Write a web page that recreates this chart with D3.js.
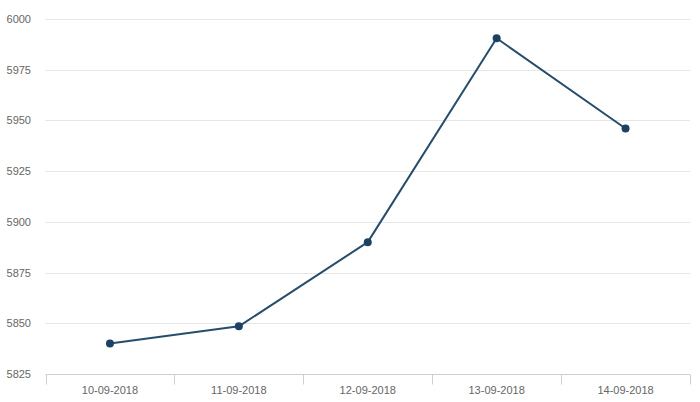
<!DOCTYPE html>
<html><head><meta charset="utf-8">
<script src="https://cdn.jsdelivr.net/npm/d3@7"></script>
<style>body{margin:0;background:#fff}svg{display:block}text{font-family:"Liberation Sans",Arial,sans-serif}</style>
</head><body><svg id="c" width="700" height="402"></svg>
<script>
const categories = ["10-09-2018","11-09-2018","12-09-2018","13-09-2018","14-09-2018"];
const values = [5840, 5848.5, 5890, 5990.5, 5946];
const yTicks = [5825,5850,5875,5900,5925,5950,5975,6000];

(function(){
const svg = d3.select("#c");
const mLeft = 45.5, mRight = 690, mTop = 19, mBottom = 374;
const x = d3.scaleBand().domain(categories).range([mLeft, mRight]);
const y = d3.scaleLinear().domain([5825, 6000]).range([mBottom, mTop]);

// grid
svg.append("g").selectAll("line").data(yTicks.slice(1)).join("line")
  .attr("x1", mLeft).attr("x2", mRight)
  .attr("y1", d => Math.round(y(d)) + 0.5).attr("y2", d => Math.round(y(d)) + 0.5)
  .attr("stroke", "#e6e6e6").attr("stroke-width", 1);

// y labels
svg.append("g").selectAll("text").data(yTicks).join("text")
  .attr("x", 31).attr("y", d => y(d) + 4)
  .attr("text-anchor", "end").attr("font-size", 11).attr("fill", "#666")
  .text(d => d);

// x axis
const xa = svg.append("g").attr("transform", `translate(0,${mBottom + 0.5})`);
xa.append("line").attr("x1", mLeft).attr("x2", mRight).attr("stroke", "#ccd0d6");
const edges = categories.map(c => x(c)).concat([mRight]);
xa.selectAll("line.t").data(edges).join("line").attr("class","t")
  .attr("x1", d => Math.round(d) + 0.5).attr("x2", d => Math.round(d) + 0.5)
  .attr("y1", 0).attr("y2", 10).attr("stroke", "#ccd0d6");
xa.selectAll("text").data(categories).join("text")
  .attr("x", d => x(d) + x.bandwidth() / 2).attr("y", 19)
  .attr("text-anchor", "middle").attr("font-size", 11).attr("fill", "#666")
  .text(d => d);

// line
const pts = categories.map((c, i) => [x(c) + x.bandwidth() / 2, y(values[i])]);
svg.append("path").datum(pts)
  .attr("d", d3.line())
  .attr("fill", "none").attr("stroke", "#264d6b").attr("stroke-width", 2)
  .attr("stroke-linejoin", "round");
svg.append("g").selectAll("circle").data(pts).join("circle")
  .attr("cx", d => d[0]).attr("cy", d => d[1]).attr("r", 4)
  .attr("fill", "#1d4163");
})();
</script></body></html>
